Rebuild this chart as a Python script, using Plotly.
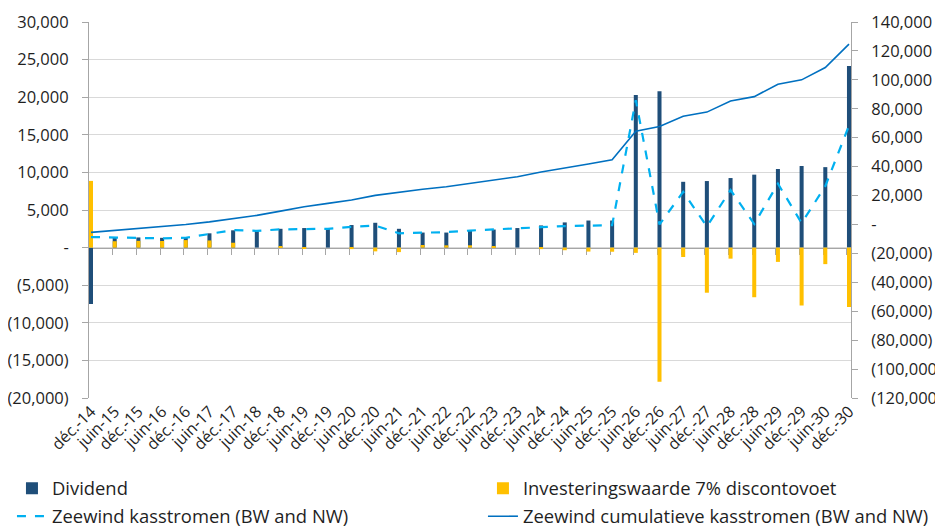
import plotly.graph_objects as go

categories = ["déc.-14", "juin-15", "déc.-15", "juin-16", "déc.-16", "juin-17", "déc.-17",
              "juin-18", "déc.-18", "juin-19", "déc.-19", "juin-20", "déc.-20", "juin-21",
              "déc.-21", "juin-22", "déc.-22", "juin-23", "déc.-23", "juin-24", "déc.-24",
              "juin-25", "déc.-25", "juin-26", "déc.-26", "juin-27", "déc.-27", "juin-28",
              "déc.-28", "juin-29", "déc.-29", "juin-30", "déc.-30"]

dividend = [-7500, 1350, 1350, 1300, 1400, 1900, 2300, 2300, 2500, 2600, 2600, 3000, 3300,
            2500, 2000, 2000, 2300, 2400, 2600, 2950, 3350, 3600, 3600, 20300, 20800, 8750,
            8850, 9250, 9700, 10450, 10850, 10700, 24150]

investeringswaarde = [8870, 850, 900, 880, 1000, 950, 650, 0, 100, -100, 0, -200, -500, -600,
                      350, 300, 300, 100, 0, -200, -350, -530, -550, -700, -17850, -1250,
                      -6000, -1470, -6600, -1900, -7700, -2200, -7900]

kasstromen = [-8700, -8900, -9200, -9600, -9200, -6400, -3900, -4400, -3400, -3200, -3000,
              -1600, -800, -6100, -5800, -5300, -4200, -3600, -2900, -1900, -1100, -600, -500,
              86000, 0, 22500, -1400, 23800, 300, 28200, 1000, 26500, 68300]

cumulatief = [-5500, -4200, -3000, -1800, 0, 1800, 3800, 6300, 9200, 12200, 14600, 16900,
              20100, 22400, 24300, 26100, 28500, 30500, 33000, 36300, 39300, 41800, 44700,
              64500, 67700, 74800, 77700, 85400, 88400, 97000, 100000, 108500, 124700]

left_ticks = [-20000, -15000, -10000, -5000, 0, 5000, 10000, 15000, 20000, 25000, 30000]
right_ticks = [-120000, -100000, -80000, -60000, -40000, -20000, 0, 20000, 40000, 60000,
               80000, 100000, 120000, 140000]


def fmt(v):
    if v == 0:
        return "-"
    if v < 0:
        return "({:,})".format(-v)
    return "{:,}".format(v)


idx = list(range(len(categories)))
half = 0.085
xr = [-half, len(categories) - 1 + half]

FONT = "Open Sans"
TXT = "#1F1F1F"
AX = "#A6A6A6"
GRID = "#D9D9D9"

fig = go.Figure()
fig.add_trace(go.Bar(x=idx, y=dividend, name="Dividend", width=0.17, legend="legend",
                     legendgroup="a",
                     marker=dict(color="#1F4E79", line=dict(width=0))))
fig.add_trace(go.Bar(x=idx, y=investeringswaarde, name="Investeringswaarde 7% discontovoet",
                     width=0.17, legend="legend2", legendgroup="b",
                     marker=dict(color="#FFC000", line=dict(width=0))))
fig.add_trace(go.Scatter(x=idx, y=kasstromen, name="Zeewind kasstromen (BW and NW)",
                         yaxis="y2", mode="lines", legend="legend", legendgroup="c",
                         line=dict(color="#00B0F0", width=2.2, dash="dash")))
fig.add_trace(go.Scatter(x=idx, y=cumulatief, name="Zeewind cumulatieve kasstromen (BW and NW)",
                         yaxis="y2", mode="lines", legend="legend2", legendgroup="d",
                         line=dict(color="#0070C0", width=1.6)))
# helper trace so the zero-crossing category axis (tick marks) is drawn
fig.add_trace(go.Scatter(x=[0], y=[0], xaxis="x2", mode="markers",
                         marker=dict(opacity=0), showlegend=False, hoverinfo="skip"))

legend_common = dict(orientation="v", xref="paper", yref="container",
                     xanchor="left", yanchor="top", font=dict(size=18.4, color=TXT),
                     traceorder="grouped", itemwidth=30, bgcolor="rgba(0,0,0,0)",
                     tracegroupgap=1)

fig.update_layout(
    width=943, height=526,
    margin=dict(l=81, r=100, t=14, b=136, autoexpand=False),
    paper_bgcolor="white", plot_bgcolor="white",
    barmode="overlay",
    font=dict(family=FONT, size=16, color=TXT),
    xaxis=dict(range=xr, tickmode="array", tickvals=idx, ticktext=categories,
               tickangle=-45, showgrid=False, zeroline=False, showline=False, ticks="",
               tickfont=dict(size=16, color=TXT), automargin=False),
    xaxis2=dict(range=xr, overlaying="x", anchor="free", position=0.4,
                tickmode="array", tickvals=[i - half for i in idx], showticklabels=False,
                ticks="outside", ticklen=6, tickcolor=AX, showline=True, linecolor=AX,
                linewidth=1, showgrid=False, zeroline=False, layer="below traces",
                automargin=False),
    yaxis=dict(range=[-20000, 30000], tickmode="array", tickvals=left_ticks,
               ticktext=[fmt(v) for v in left_ticks], showgrid=True, gridcolor=GRID,
               gridwidth=1, zeroline=False, showline=True, linecolor=AX, ticks="outside",
               ticklen=6, tickcolor=AX, tickfont=dict(size=16.5, color=TXT),
               ticklabelstandoff=10, automargin=False),
    yaxis2=dict(range=[-120000, 140000], overlaying="y", side="right", anchor="x",
                tickmode="array", tickvals=right_ticks,
                ticktext=[fmt(v) for v in right_ticks], showgrid=False, zeroline=False,
                showline=True, linecolor=AX, ticks="outside", ticklen=6, tickcolor=AX,
                tickfont=dict(size=16.5, color=TXT), ticklabelstandoff=10, automargin=False),
    legend=dict(x=-0.1011, y=0.122, **legend_common),
    legend2=dict(x=0.517, y=0.122, **legend_common),
    showlegend=True,
)

fig.write_html("out.html")
